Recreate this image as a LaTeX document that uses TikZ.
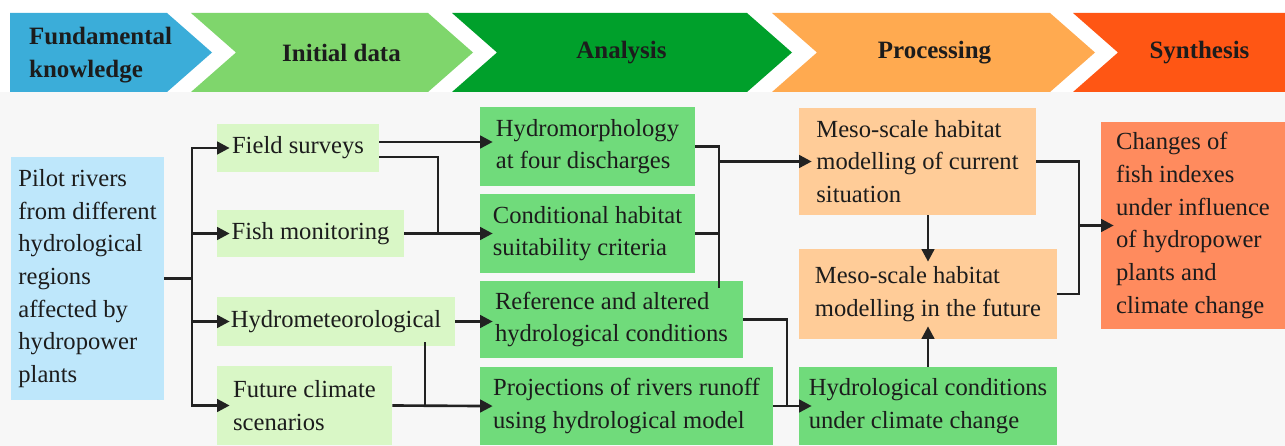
\documentclass[tikz,border=0pt]{standalone}
\usepackage{fontspec}
\setmainfont{Liberation Serif}
\usepackage{tikz}
\usetikzlibrary{arrows.meta,positioning}
\definecolor{headblue}{HTML}{3BADD9}
\definecolor{headlime}{HTML}{7FD66C}
\definecolor{headgreen}{HTML}{00A02B}
\definecolor{headorange}{HTML}{FFAA50}
\definecolor{headred}{HTML}{FF5614}
\definecolor{sourceblue}{HTML}{BEE7FB}
\definecolor{datalime}{HTML}{D9F7C6}
\definecolor{analysisgreen}{HTML}{70DB7B}
\definecolor{processorange}{HTML}{FFCC98}
\definecolor{resultred}{HTML}{FF8B5E}
\definecolor{pagebg}{HTML}{F7F7F7}
\definecolor{linedark}{HTML}{222222}
\definecolor{inkdark}{HTML}{1C1C1C}

\begin{document}
\begin{tikzpicture}[
    x=0.02cm, y=-0.02cm,
    >={Triangle[length=0.25cm,width=0.25cm]},
    every node/.style={font=\fontsize{14}{18.6}\selectfont, text=inkdark},
    heading/.style={
        font=\fontsize{14.2}{19}\selectfont\bfseries,
        align=left
    },
    block/.style={
        rectangle,
        inner sep=0pt,
        align=left
    },
    link/.style={draw=linedark, line width=1.5pt},
    conn/.style={link, ->, shorten >=-0.26cm}
]
    \useasboundingbox (0,0) rectangle (1285,446);
    \fill[white] (0,0) rectangle (1285,446);
    \fill[pagebg] (0,92) rectangle (1285,446);

    % === HEADER CHEVRONS ===
    \fill[headblue] (10,13) -- (167,13) -- (212,52.5) -- (167,92) -- (10,92) -- cycle;
    \foreach \l/\r/\c in {191/428/headlime, 452/747/headgreen, 772/1050/headorange} {
        \fill[\c] (\l,13) -- (\r,13) -- (\r+45,52.5) -- (\r,92) -- (\l,92) -- (\l+45,52.5) -- cycle;
    }
    \fill[headred] (1073,13) -- (1285,13) -- (1285,92) -- (1073,92) -- (1118,52.5) -- cycle;

    \node[heading, anchor=west] (hknow) at (23,55) {Fundamental\\knowledge};
    \node[heading] (hdata) at (341.5,52.5) {Initial data};
    \node[heading] (hanal) at (621.5,52.5) {Analysis};
    \node[heading] (hproc) at (934.5,52.5) {Processing};
    \node[heading] (hsynt) at (1199.5,52.5) {Synthesis};

    % === FUNDAMENTAL KNOWLEDGE ===
    \node[block, fill=sourceblue, minimum width=3.06cm, minimum height=4.86cm] (pilot) at (87.5,278.5)
        {Pilot rivers\\from different\\hydrological\\regions\\affected by\\hydropower\\plants};

    % === INITIAL DATA ===
    \node[block, fill=datalime, minimum width=3.24cm, minimum height=0.96cm] (field) at (298,148) {Field surveys};
    \node[block, fill=datalime, minimum width=3.74cm, minimum height=0.94cm] (fish) at (310.5,233.5) {Fish monitoring};
    \node[block, fill=datalime, minimum width=4.76cm, minimum height=0.98cm] (hydromet) at (336,321.5) {Hydrometeorological};
    \node[block, fill=datalime, minimum width=3.5cm, minimum height=1.58cm] (future) at (304.5,405.5) {Future climate\\scenarios};

    % === ANALYSIS ===
    \node[block, fill=analysisgreen, minimum width=4.3cm, minimum height=1.58cm] (hydromorph) at (587.5,146.5)
        {Hydromorphology\\at four discharges};
    \node[block, fill=analysisgreen, minimum width=4.3cm, minimum height=1.58cm] (cond) at (587.5,233.5)
        {Conditional habitat\\suitability criteria};
    \node[block, fill=analysisgreen, minimum width=5.26cm, minimum height=1.54cm] (refalt) at (611.5,319.5)
        {Reference and altered\\hydrological conditions};
    \node[block, fill=analysisgreen, minimum width=5.86cm, minimum height=1.56cm] (proj) at (626.5,406)
        {Projections of rivers runoff\\using hydrological model};

    % === PROCESSING ===
    \node[block, fill=processorange, minimum width=4.74cm, minimum height=2.14cm] (mesocur) at (917.5,161.5)
        {Meso-scale habitat\\modelling of current\\situation};
    \node[block, fill=processorange, minimum width=5.16cm, minimum height=1.8cm] (mesofut) at (928,294)
        {Meso-scale habitat\\modelling in the future};
    \node[block, fill=analysisgreen, minimum width=5.16cm, minimum height=1.56cm] (hydcond) at (928,406)
        {Hydrological conditions\\under climate change};

    % === SYNTHESIS ===
    \node[block, fill=resultred, minimum width=3.68cm, minimum height=4.14cm] (changes) at (1193,225.5)
        {Changes of\\fish indexes\\under influence\\of hydropower\\plants and\\climate change};

    % Junction points
    \coordinate (split) at (192,278.5);
    \coordinate (fup) at ([yshift=0.12cm]field.east);
    \coordinate (fdown) at ([yshift=-0.18cm]field.east);
    \coordinate (fj) at (438,233.5);
    \coordinate (hj) at (425,406);
    \coordinate (ajoin) at (719,161.5);
    \coordinate (rj) at (787,406);
    \coordinate (sj) at (1079,225.5);

    % Pilot rivers to initial data
    \draw[link] (pilot.east) -- (split);
    \foreach \n in {field, fish, hydromet, future} {
        \draw[conn] (split) |- (\n.west);
    }

    % Initial data to analysis
    \draw[conn] (fup) -- (fup -| hydromorph.west);
    \draw[link] (fdown) -| (fj);
    \draw[conn] (fish.east) -- (cond.west);
    \draw[conn] (hydromet.east) -- (hydromet.east -| refalt.west);
    \draw[link, shorten <=-0.08cm] (hydromet.south -| hj) -- (hj);
    \draw[conn] (future.east) -- (proj.west);

    % Analysis to processing
    \draw[link] (hydromorph.east) -| (ajoin);
    \draw[link] (cond.east) -| (ajoin);
    \draw[link, shorten <=-0.14cm] (refalt.north -| ajoin) -- (ajoin);
    \draw[conn] (ajoin) -- (mesocur.west);
    \draw[link] (refalt.east) -| (rj);
    \draw[conn] (proj.east) -- (hydcond.west);

    % Processing
    \draw[conn] (mesofut.north |- mesocur.south) -- (mesofut.north);
    \draw[conn] (hydcond.north) -- (mesofut.south);

    % Processing to synthesis
    \draw[link] (mesocur.east) -| (sj);
    \draw[link] (mesofut.east) -| (sj);
    \draw[conn] (sj) -- (changes.west);
\end{tikzpicture}
\end{document}
